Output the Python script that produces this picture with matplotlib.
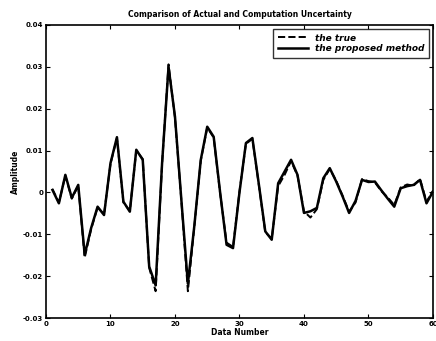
import matplotlib.pyplot as plt
import numpy as np

n = np.arange(1, 61)
proposed = [0.0006, -0.0026, 0.0042, -0.0013, 0.0018, -0.0149, -0.0085, -0.0034, -0.0054, 0.0070,
            0.0132, -0.0022, -0.0046, 0.0102, 0.0078, -0.0177, -0.0222, 0.0070, 0.0300, 0.0181,
            -0.0020, -0.0218, -0.0080, 0.0078, 0.0157, 0.0133, 0.0000, -0.0125, -0.0133, 0.0000,
            0.0118, 0.0130, 0.0020, -0.0093, -0.0113, 0.0022, 0.0050, 0.0078, 0.0042, -0.0049,
            -0.0045, -0.0037, 0.0034, 0.0058, 0.0026, -0.0010, -0.0049, -0.0020, 0.0030, 0.0025,
            0.0026, 0.0005, -0.0015, -0.0034, 0.0010, 0.0015, 0.0018, 0.0030, -0.0026, 0.0002]
true = [0.0008, -0.0024, 0.0040, -0.0015, 0.0016, -0.0156, -0.0088, -0.0036, -0.0052, 0.0068,
        0.0130, -0.0024, -0.0044, 0.0100, 0.0080, -0.0180, -0.0236, 0.0068, 0.0306, 0.0178,
        -0.0022, -0.0236, -0.0082, 0.0076, 0.0155, 0.0131, -0.0002, -0.0120, -0.0130, 0.0002,
        0.0116, 0.0128, 0.0018, -0.0095, -0.0110, 0.0015, 0.0042, 0.0075, 0.0040, -0.0045,
        -0.0060, -0.0040, 0.0030, 0.0056, 0.0028, -0.0008, -0.0046, -0.0024, 0.0032, 0.0027,
        0.0024, 0.0003, -0.0012, -0.0030, 0.0012, 0.0019, 0.0016, 0.0032, -0.0022, 0.0004]

xticks = [0, 10, 20, 30, 40, 50, 60]
yticks = [-0.03, -0.02, -0.01, 0, 0.01, 0.02, 0.03, 0.04]
ylabels = ['-0.03', '-0.02', '-0.01', '0', '0.01', '0.02', '0.03', '0.04']

plt.rcParams['font.family'] = 'DejaVu Sans'
plt.rcParams['font.weight'] = 'bold'

fig = plt.figure(figsize=(4.36, 3.41), dpi=100)
ax = fig.add_axes([0.1055, 0.0674, 0.8875, 0.8593])

ax.plot(n, true, 'k--', lw=1.4, label='the true')
ax.plot(n, proposed, 'k-', lw=1.8, label='the proposed method')

ax.set_xlim(0, 60)
ax.set_ylim(-0.03, 0.04)
ax.set_xticks(xticks)
ax.set_yticks(yticks)
ax.set_yticklabels(ylabels)
ax.tick_params(direction='in', top=True, right=True, labelsize=5, length=3, pad=2)
for s in ax.spines.values():
    s.set_linewidth(1.2)

ax.set_title('Comparison of Actual and Computation Uncertainty', fontsize=5.5, fontweight='bold', pad=6)
ax.set_xlabel('Data Number', fontsize=5.5, fontweight='bold', labelpad=1)
ax.set_ylabel('Amplitude', fontsize=5.5, fontweight='bold', labelpad=2)

leg = ax.legend(loc='upper right', fontsize=6.5, fancybox=False, edgecolor='k',
                handlelength=3.3, handletextpad=0.8, borderpad=0.5,
                borderaxespad=0.45, labelspacing=0.2)
leg.get_frame().set_linewidth(1.0)
for t in leg.get_texts():
    t.set_fontstyle('italic')

fig.savefig('out.png', dpi=100)
